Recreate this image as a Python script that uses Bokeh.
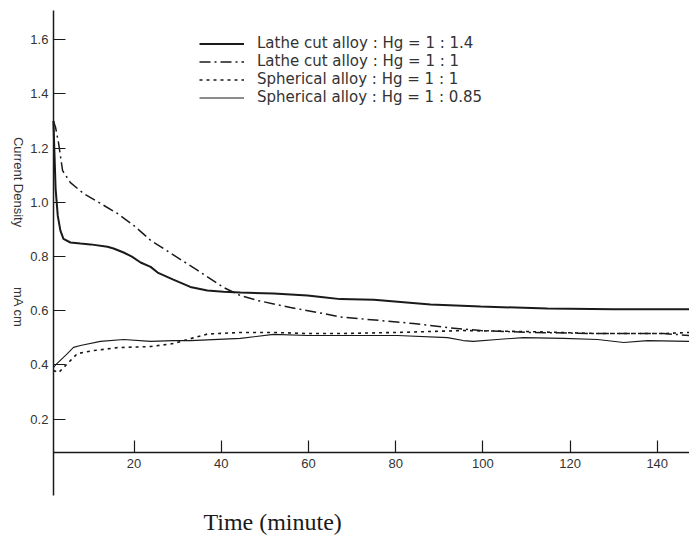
import math
from bokeh.plotting import figure
from bokeh.models import Range1d, Label, Legend, LegendItem, FixedTicker
from bokeh.embed import file_html
from bokeh.resources import INLINE

# ---- data ----
t_lathe_14 = [1.5, 2.0, 2.5, 3.1, 3.8, 5.4, 7.7, 10.0, 13.9, 15.3, 17.6, 19.5, 21.5, 23.8,
              25.4, 29.0, 32.9, 36.8, 40.5, 44.4, 52.0, 59.8, 63.4, 67.3, 75.0, 88.0,
              99.5, 114.8, 130.0, 147.4]
v_lathe_14 = [1.30, 1.05, 0.95, 0.896, 0.865, 0.852, 0.848, 0.845, 0.836, 0.83, 0.815,
              0.80, 0.778, 0.762, 0.741, 0.715, 0.688, 0.675, 0.670, 0.667, 0.664, 0.656,
              0.65, 0.643, 0.641, 0.623, 0.616, 0.608, 0.606, 0.606]

t_lathe_1 = [1.5, 2.0, 2.7, 3.6, 5.4, 8.4, 12.3, 16.2, 19.9, 23.8, 29.9, 34.5, 40.5, 44.4,
             48.3, 55.9, 63.4, 67.3, 76.5, 84.1, 91.9, 99.5, 110.9, 126.3, 141.4, 147.4]
v_lathe_1 = [1.30, 1.276, 1.217, 1.117, 1.073, 1.033, 0.996, 0.959, 0.915, 0.86, 0.797,
             0.75, 0.686, 0.656, 0.638, 0.612, 0.59, 0.577, 0.564, 0.553, 0.538, 0.527,
             0.52, 0.516, 0.516, 0.509]

t_sph_1 = [1.5, 2.7, 4.7, 7.0, 10.7, 16.2, 23.8, 29.0, 33.6, 36.8, 44.4, 52.0, 59.8, 67.3,
           80.4, 95.5, 110.9, 126.3, 141.4, 147.4]
v_sph_1 = [0.38, 0.372, 0.405, 0.442, 0.453, 0.464, 0.468, 0.479, 0.50, 0.514, 0.52, 0.52,
           0.516, 0.516, 0.52, 0.527, 0.523, 0.516, 0.516, 0.52]

t_sph_085 = [1.5, 2.0, 4.7, 6.1, 7.7, 12.3, 17.6, 23.8, 29.0, 33.0, 44.4, 52.0, 59.8, 67.3,
             80.4, 91.9, 95.5, 97.8, 103.3, 109.3, 118.5, 126.3, 132.3, 137.8, 147.4]
v_sph_085 = [0.39, 0.40, 0.442, 0.465, 0.472, 0.487, 0.494, 0.487, 0.49, 0.49, 0.498, 0.513,
             0.509, 0.509, 0.509, 0.501, 0.49, 0.487, 0.494, 0.501, 0.498, 0.494, 0.483,
             0.49, 0.487]

x_ticks = [20, 40, 60, 80, 100, 120, 140]
y_ticks = [0.2, 0.4, 0.6, 0.8, 1.0, 1.2, 1.4, 1.6]
y_tick_labels = ["0.2", "0.4", "0.6", "0.8", "1.0", "1.2", "1.4", "1.6"]

legend_labels = ["Lathe cut alloy : Hg = 1 : 1.4",
                 "Lathe cut alloy : Hg = 1 : 1",
                 "Spherical alloy : Hg = 1 : 1",
                 "Spherical alloy : Hg = 1 : 0.85"]

x_title = "Time (minute)"
y_title_1 = "Current Density"
y_title_2 = "mA cm"

# axis extents (time / current-density values where the drawn axes begin and end)
X_MIN, X_MAX = 1.5, 147.4
Y_MIN, Y_MAX = 0.077, 1.708

INK = "#1a1a1a"
SANS = "Liberation Sans"

# the frame fills the whole canvas; axes are drawn at fixed positions inside it
p = figure(width=689, height=535, output_backend="svg", toolbar_location=None,
           x_range=Range1d(-10.64, 147.4), y_range=Range1d(-0.2293, 1.745),
           min_border=0, min_border_left=0, min_border_right=0, min_border_top=0,
           min_border_bottom=0)
p.outline_line_color = None
p.xgrid.visible = False
p.ygrid.visible = False
p.background_fill_color = "white"

r1 = p.line(t_lathe_14, v_lathe_14, line_color=INK, line_width=2.0)
r2 = p.line(t_lathe_1, v_lathe_1, line_color=INK, line_width=1.5, line_dash="11 4 2 4")
r3 = p.line(t_sph_1, v_sph_1, line_color=INK, line_width=1.6, line_dash="3 4")
r4 = p.line(t_sph_085, v_sph_085, line_color=INK, line_width=1.1)

for ax in (p.xaxis[0], p.yaxis[0]):
    ax.axis_line_color = INK
    ax.axis_line_width = 1.5
    ax.major_tick_line_color = INK
    ax.major_tick_line_width = 1.2
    ax.major_tick_in = 12
    ax.major_tick_out = 0
    ax.minor_tick_in = 0
    ax.minor_tick_out = 0
    ax.major_label_text_font = SANS
    ax.major_label_text_font_size = "13px"
    ax.major_label_text_color = "#333333"

p.xaxis.fixed_location = Y_MIN
p.xaxis.bounds = (X_MIN, X_MAX)
p.xaxis.ticker = FixedTicker(ticks=x_ticks)
p.xaxis.major_label_standoff = 7

p.yaxis.fixed_location = X_MIN
p.yaxis.bounds = (-0.08, Y_MAX)
p.yaxis.ticker = FixedTicker(ticks=y_ticks)
p.yaxis.major_label_overrides = {v: s for v, s in zip(y_ticks, y_tick_labels)}
p.yaxis.major_label_standoff = 5

legend = Legend(items=[LegendItem(label=l, renderers=[r]) for l, r in
                       zip(legend_labels, [r1, r2, r3, r4])],
                location=(199, 429), border_line_color=None,
                background_fill_alpha=0, label_text_font="DejaVu Sans",
                label_text_font_size="15px", label_text_color="#333333",
                glyph_width=45, glyph_height=15, label_height=15, spacing=0,
                padding=4, label_standoff=13)
p.add_layout(legend)

p.add_layout(Label(x=35.9, y=-0.181, text=x_title,
                   text_font="Liberation Serif", text_font_size="24px",
                   text_color=INK, text_baseline="middle", text_align="left"))
p.add_layout(Label(x=-6.5, y=1.075, text=y_title_1,
                   angle=-math.pi / 2, text_font=SANS, text_font_size="13px",
                   text_color="#333333", text_baseline="middle", text_align="center"))
p.add_layout(Label(x=-6.5, y=0.613, text=y_title_2,
                   angle=-math.pi / 2, text_font=SANS, text_font_size="13px",
                   text_color="#333333", text_baseline="middle", text_align="center"))

open("out.html", "w").write(file_html(p, INLINE))
